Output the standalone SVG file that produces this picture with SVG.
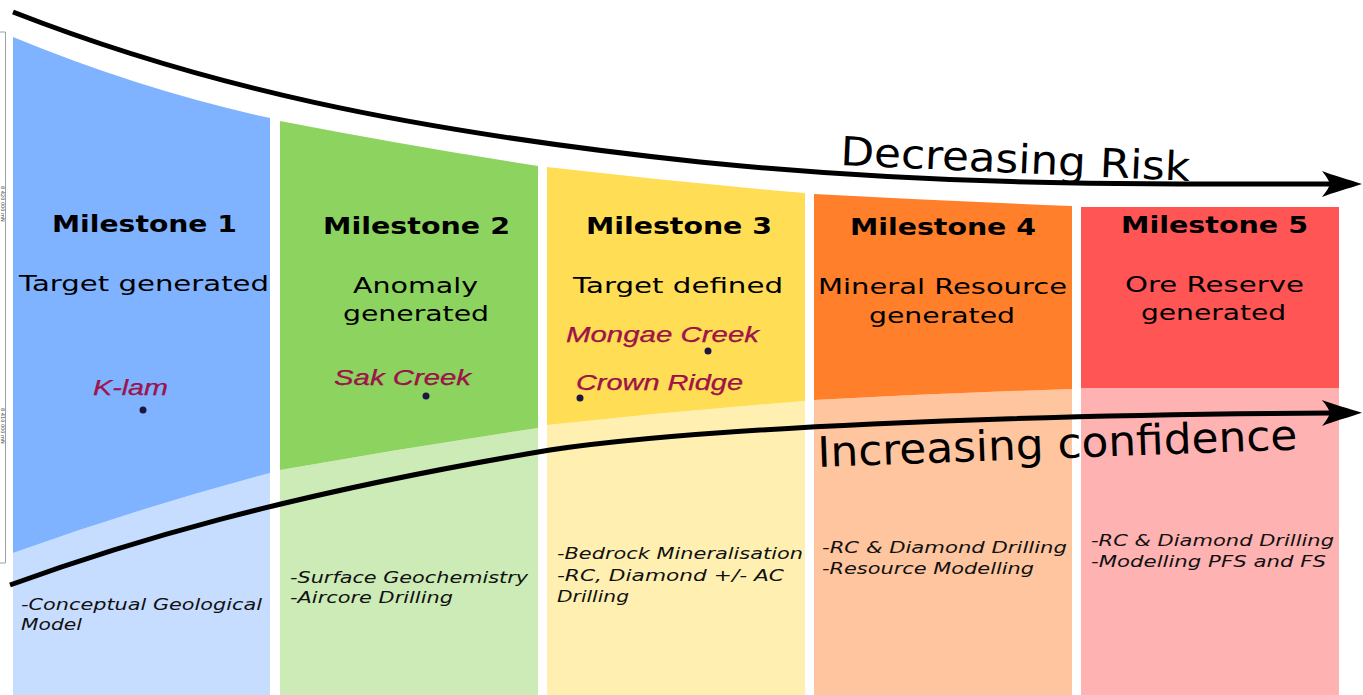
<svg xmlns="http://www.w3.org/2000/svg" width="1363" height="695" viewBox="0 0 1363 695">
<defs>
<style>
.title{font-family:"DejaVu Sans",Verdana,sans-serif;font-weight:bold;font-size:23px;fill:#000}
.sub{font-family:"DejaVu Sans",Verdana,sans-serif;font-size:22px;fill:#000}
.site{font-family:"Liberation Sans",Arial,sans-serif;font-style:italic;font-size:22px;fill:#aa1050;stroke:#6a0a30;stroke-width:0.25}
.act{font-family:"DejaVu Sans",Verdana,sans-serif;font-style:italic;font-size:15.5px;fill:#111}
.big{font-family:"DejaVu Sans",Verdana,sans-serif;font-size:40px;fill:#000}
.dot{fill:#1b1740}
.arrow{fill:none;stroke:#000;stroke-width:5;marker-end:url(#ah)}
.c1{fill:#80b3ff}.c1l{fill:#c6ddff}
.c2{fill:#8dd35f}.c2l{fill:#ccebb7}
.c3{fill:#ffdd55}.c3l{fill:#fff0b2}
.c4{fill:#ff7f2a}.c4l{fill:#ffc59f}
.c5{fill:#ff5555}.c5l{fill:#ffb2b2}
.tiny{font-family:"DejaVu Sans",sans-serif;font-size:5px;fill:#444}
</style>
<marker id="ah" viewBox="0 0 42 26" markerWidth="42" markerHeight="26" refX="12" refY="13" orient="auto" markerUnits="userSpaceOnUse">
<path d="M42,13 C30,9 12,4 2,0 C7,6 9,10 10,13 C9,16 7,20 2,26 C12,22 30,17 42,13 Z" fill="#000"/>
</marker>
</defs>
<rect width="1363" height="695" fill="#fff"/>

<g id="map-frame">
<path d="M0,32 H5.5 V563 H0" fill="none" stroke="#a0a0a0" stroke-width="1"/>
<text class="tiny" transform="translate(0.5,186) rotate(90)">8 420 000 mN</text>
<text class="tiny" transform="translate(0.5,408) rotate(90)">8 410 000 mN</text>
</g>

<g id="milestone1">
<path class="c1l" d="M13,553 Q141.5,507 270,473 L270,695 L13,695 Z"/>
<path class="c1" d="M13,37 Q141.5,90 270,118 L270,473 Q141.5,507 13,553 Z"/>
<text class="title" x="52" y="232" textLength="185" lengthAdjust="spacingAndGlyphs">Milestone 1</text>
<text class="sub" x="19" y="291" textLength="250" lengthAdjust="spacingAndGlyphs">Target generated</text>
<text class="site" x="93" y="395" textLength="75" lengthAdjust="spacingAndGlyphs">K-lam</text>
<circle class="dot" cx="143" cy="410" r="3.5"/>
<text class="act" x="21" y="610" textLength="241" lengthAdjust="spacingAndGlyphs">-Conceptual Geological</text>
<text class="act" x="21" y="630" textLength="61" lengthAdjust="spacingAndGlyphs">Model</text>
</g>

<g id="milestone2">
<path class="c2l" d="M280,470 Q409,447 538,428 L538,695 L280,695 Z"/>
<path class="c2" d="M280,121 Q409,146 538,166 L538,428 Q409,447 280,470 Z"/>
<text class="title" x="323" y="234" textLength="187" lengthAdjust="spacingAndGlyphs">Milestone 2</text>
<text class="sub" x="353" y="293" textLength="125" lengthAdjust="spacingAndGlyphs">Anomaly</text>
<text class="sub" x="343" y="321" textLength="146" lengthAdjust="spacingAndGlyphs">generated</text>
<text class="site" x="334" y="385" textLength="137" lengthAdjust="spacingAndGlyphs">Sak Creek</text>
<circle class="dot" cx="426" cy="396" r="3.5"/>
<text class="act" x="290" y="583" textLength="238" lengthAdjust="spacingAndGlyphs">-Surface Geochemistry</text>
<text class="act" x="290" y="603" textLength="163" lengthAdjust="spacingAndGlyphs">-Aircore Drilling</text>
</g>

<g id="milestone3">
<path class="c3l" d="M547,425 Q676,411 805,401 L805,695 L547,695 Z"/>
<path class="c3" d="M547,167 Q676,182 805,193 L805,401 Q676,411 547,425 Z"/>
<text class="title" x="586" y="234" textLength="186" lengthAdjust="spacingAndGlyphs">Milestone 3</text>
<text class="sub" x="573" y="293" textLength="210" lengthAdjust="spacingAndGlyphs">Target defined</text>
<text class="site" x="566" y="342" textLength="193" lengthAdjust="spacingAndGlyphs">Mongae Creek</text>
<circle class="dot" cx="708" cy="351" r="3.5"/>
<text class="site" x="576" y="390" textLength="167" lengthAdjust="spacingAndGlyphs">Crown Ridge</text>
<circle class="dot" cx="580" cy="398" r="3.5"/>
<text class="act" x="557" y="559" textLength="246" lengthAdjust="spacingAndGlyphs">-Bedrock Mineralisation</text>
<text class="act" x="557" y="581" textLength="227" lengthAdjust="spacingAndGlyphs">-RC, Diamond +/- AC</text>
<text class="act" x="557" y="602" textLength="72" lengthAdjust="spacingAndGlyphs">Drilling</text>
</g>

<g id="milestone4">
<path class="c4l" d="M814,400 Q943,393 1072,389 L1072,695 L814,695 Z"/>
<path class="c4" d="M814,194 Q943,201 1072,206 L1072,389 Q943,393 814,400 Z"/>
<text class="title" x="850" y="235" textLength="186" lengthAdjust="spacingAndGlyphs">Milestone 4</text>
<text class="sub" x="818" y="294" textLength="249" lengthAdjust="spacingAndGlyphs">Mineral Resource</text>
<text class="sub" x="869" y="323" textLength="146" lengthAdjust="spacingAndGlyphs">generated</text>
<text class="act" x="822" y="553" textLength="245" lengthAdjust="spacingAndGlyphs">-RC &amp; Diamond Drilling</text>
<text class="act" x="822" y="574" textLength="212" lengthAdjust="spacingAndGlyphs">-Resource Modelling</text>
</g>

<g id="milestone5">
<path class="c5l" d="M1081,388 L1339,388 L1339,695 L1081,695 Z"/>
<path class="c5" d="M1081,207 L1339,207 L1339,388 L1081,388 Z"/>
<text class="title" x="1121" y="233" textLength="187" lengthAdjust="spacingAndGlyphs">Milestone 5</text>
<text class="sub" x="1125" y="292" textLength="179" lengthAdjust="spacingAndGlyphs">Ore Reserve</text>
<text class="sub" x="1141" y="320" textLength="145" lengthAdjust="spacingAndGlyphs">generated</text>
<text class="act" x="1091" y="546" textLength="243" lengthAdjust="spacingAndGlyphs">-RC &amp; Diamond Drilling</text>
<text class="act" x="1091" y="567" textLength="235" lengthAdjust="spacingAndGlyphs">-Modelling PFS and FS</text>
</g>

<g id="connectors">
<path class="arrow" d="M13,12 C200,85 400,130 700,162 C950,187 1150,184 1332,184"/>
<text class="big" transform="rotate(2.6 840 165)" x="840" y="165" textLength="350" lengthAdjust="spacingAndGlyphs">Decreasing Risk</text>
<path class="arrow" d="M10,585 C120,545 280,495 550,450 C700,428 1000,415 1332,413"/>
<text class="big" transform="rotate(-2.1 818 467)" x="818" y="467" textLength="480" lengthAdjust="spacingAndGlyphs" style="font-size:42px">Increasing confidence</text>
</g>
</svg>
